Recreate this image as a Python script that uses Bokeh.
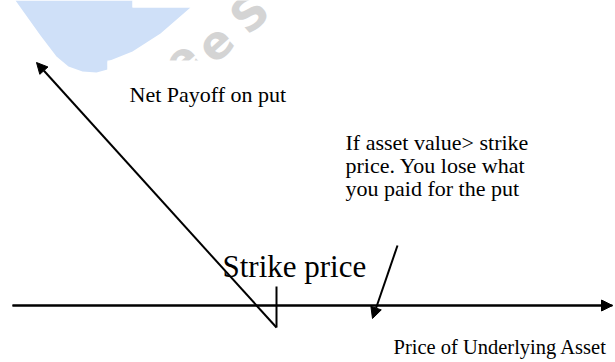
import math

from bokeh.core.properties import value
from bokeh.embed import file_html
from bokeh.models import Arrow, ColumnDataSource, NormalHead, Range1d
from bokeh.plotting import figure
from bokeh.resources import INLINE

# Put payoff sketch: x = price of the underlying, y = payoff (0 on the axis)
AXIS_Y = 305          # screen row of the price axis, used only to set the y range
W, H = 615, 362

axis_x = [12, 612]
axis_y = [0, 0]

strike = 276
premium = 22                      # loss below the axis at the strike
strike_tick_y = [19, -premium]

payoff_x = [strike, 36]           # net payoff on the put, rising as price falls
payoff_y = [-premium, 243]

loss_arrow_x = [397, 372]         # pointer from the note to the flat loss region
loss_arrow_y = [60, -13]

labels = ["Net Payoff on put",
          "If asset value> strike",
          "price. You lose what",
          "you paid for the put"]
label_x = [129, 345, 345, 345]
label_y = [211.5, 163.3, 139.7, 116.7]

axis_label = "Price of Underlying Asset"
axis_label_x = [393]
axis_label_y = [-41.7]

strike_label = "Strike price"
strike_label_x = [222]
strike_label_y = [38.7]

# faint watermark in the top-left corner
mark_x = [15, 132, 132, 190, 160, 132, 107, 107, 96, 82, 68, 56, 40, 25]
mark_y = [305, 305, 298, 298, 272, 254, 244, 236, 233, 234, 239, 249, 270, 291]
mark_letters = ["e", "e", "S"]
mark_letter_x = [180, 214, 249]
mark_letter_y = [246, 263, 292]

p = figure(width=W, height=H, output_backend="svg", toolbar_location=None,
           x_range=Range1d(0, W), y_range=Range1d(AXIS_Y - H, AXIS_Y),
           x_axis_location=None, y_axis_location=None, min_border=0,
           background_fill_color="white", border_fill_color="white")
p.outline_line_color = None
p.grid.visible = False

p.patch(mark_x, mark_y, fill_color="#cfe0f8", line_color=None)
p.text(mark_letter_x, mark_letter_y, text=mark_letters, angle=math.radians(42),
       text_font=value("DejaVu Sans"), text_font_style="bold", text_font_size="46px",
       text_color="#d4d4d4", text_align="center", text_baseline="middle")
# white boxes laid over the watermark
p.quad(left=[107, 132], right=[320, 205], bottom=[227, 298], top=[245, 306],
       fill_color="white", line_color=None)

lw = 2
p.line(axis_x, axis_y, line_color="black", line_width=lw)
p.add_layout(Arrow(end=NormalHead(size=11, fill_color="black", line_color="black"),
                   x_start=axis_x[0], y_start=axis_y[0], x_end=axis_x[1], y_end=axis_y[1],
                   line_color="black", line_width=lw))
p.line([strike, strike], strike_tick_y, line_color="black", line_width=lw)
p.add_layout(Arrow(end=NormalHead(size=11, fill_color="black", line_color="black"),
                   x_start=payoff_x[0], y_start=payoff_y[0], x_end=payoff_x[1], y_end=payoff_y[1],
                   line_color="black", line_width=lw))
p.add_layout(Arrow(end=NormalHead(size=11, fill_color="black", line_color="black"),
                   x_start=loss_arrow_x[0], y_start=loss_arrow_y[0],
                   x_end=loss_arrow_x[1], y_end=loss_arrow_y[1],
                   line_color="black", line_width=lw))

src = ColumnDataSource(dict(x=label_x, y=label_y, text=labels))
p.text("x", "y", text="text", source=src, text_font=value("Liberation Serif"),
       text_font_size="22px", text_color="black", text_align="left",
       text_baseline="alphabetic")
p.text(axis_label_x, axis_label_y, text=[axis_label], text_font=value("Liberation Serif"),
       text_font_size="20.5px", text_color="black", text_align="left",
       text_baseline="alphabetic")
p.text(strike_label_x, strike_label_y, text=[strike_label], text_font=value("Liberation Serif"),
       text_font_size="31px", text_color="black", text_align="left",
       text_baseline="alphabetic")

open("out.html", "w").write(file_html(p, INLINE))
